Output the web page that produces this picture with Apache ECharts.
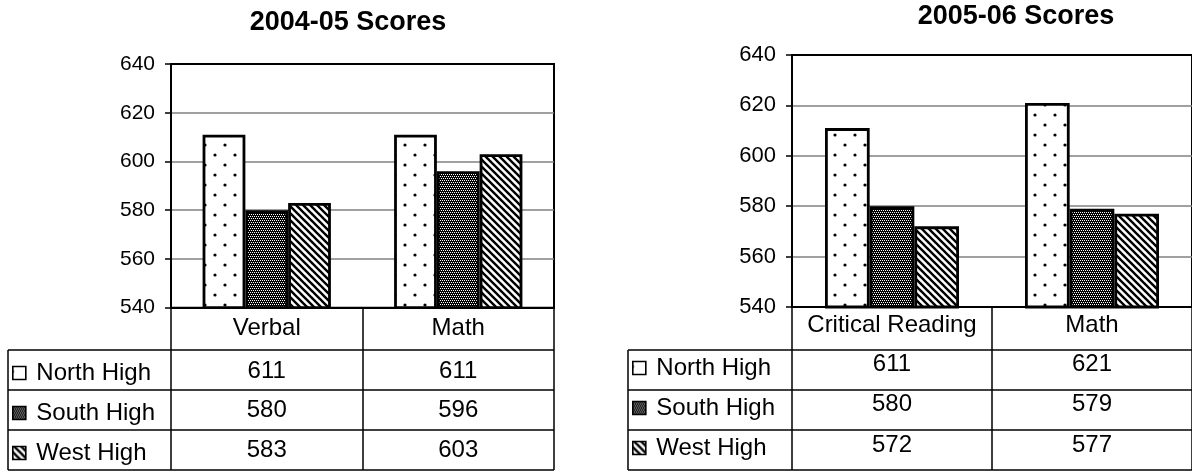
<!DOCTYPE html>
<html>
<head>
<meta charset="utf-8">
<script src="https://cdn.jsdelivr.net/npm/echarts@6/dist/echarts.min.js"></script>
<style>
  html, body { margin: 0; padding: 0; background: #fff; }
  #chart { width: 1192px; height: 472px; }
</style>
</head>
<body>
<div id="chart"></div>
<script>
// ---- data ----
const schools = ['North High', 'South High', 'West High'];
const subjects0405 = ['Verbal', 'Math'];
const subjects0506 = ['Critical Reading', 'Math'];
const north0405 = [611, 611];
const south0405 = [580, 596];
const west0405 = [583, 603];
const north0506 = [611, 621];
const south0506 = [580, 579];
const west0506 = [572, 577];
const scoreTicks = [540, 560, 580, 600, 620, 640];
const titles = ['2004-05 Scores', '2005-06 Scores'];

// ---- fill patterns (black & white print style) ----
function makeCanvas(w, h) {
  const c = document.createElement('canvas');
  c.width = w; c.height = h;
  return c;
}
function dotPattern() {
  const c = makeCanvas(20, 20), g = c.getContext('2d');
  g.fillStyle = '#fff'; g.fillRect(0, 0, 20, 20);
  g.fillStyle = '#000';
  [[5, 5], [15, 15]].forEach(([x, y]) => { g.beginPath(); g.arc(x, y, 1.6, 0, Math.PI * 2); g.fill(); });
  return c;
}
function meshPattern() {
  const c = makeCanvas(4, 4), g = c.getContext('2d');
  g.fillStyle = '#000'; g.fillRect(0, 0, 4, 4);
  g.fillStyle = '#fff';
  [[0, 0], [2, 0], [1, 2], [3, 2]].forEach(([x, y]) => g.fillRect(x, y, 1, 1));
  return c;
}
function stripePattern() {
  const s = 7, c = makeCanvas(s, s), g = c.getContext('2d');
  g.fillStyle = '#fff'; g.fillRect(0, 0, s, s);
  g.strokeStyle = '#000'; g.lineWidth = 2.4;
  [-s, 0, s].forEach(off => { g.beginPath(); g.moveTo(-1, off - 1); g.lineTo(s + 1, off + s + 1); g.stroke(); });
  return c;
}
const fills = [dotPattern(), meshPattern(), stripePattern()].map(img => ({ image: img, repeat: 'repeat' }));

// ---- layout of the two panels ----
const FONT = '"Liberation Sans", Arial, Helvetica, sans-serif';
const panels = [
  {
    title: titles[0], cats: subjects0405, values: [north0405, south0405, west0405],
    grid: { left: 171, top: 64, width: 383, height: 243.7 },
    titleAt: [348, 23], tickFont: 21, labelMargin: 9,
    tableLeft: 8, rowLines: [350, 390, 430, 470], textY: [371, 410, 450], legendTop: 356
  },
  {
    title: titles[1], cats: subjects0506, values: [north0506, south0506, west0506],
    grid: { left: 792, top: 55, width: 402, height: 252 },
    titleAt: [1016, 16.5], tickFont: 22, labelMargin: 6,
    tableLeft: 628, rowLines: [350, 390, 430, 470], textY: [364, 404, 445], legendTop: 351
  }
];

const chart = echarts.init(document.getElementById('chart'), null, { renderer: 'canvas' });

const option = {
  animation: false,
  backgroundColor: '#fff',
  textStyle: { fontFamily: FONT, color: '#000' },
  grid: panels.map(p => Object.assign({ show: true, borderColor: '#000', borderWidth: 2, backgroundColor: 'transparent', containLabel: false }, p.grid)),
  xAxis: panels.map((p, k) => ({
    type: 'category', gridIndex: k, data: p.cats, position: 'bottom',
    axisLine: { show: true, lineStyle: { color: '#000', width: 2 } },
    axisTick: { show: true, interval: 0, alignWithLabel: false, length: p.rowLines[p.rowLines.length - 1] - (p.grid.top + p.grid.height), lineStyle: { color: '#000', width: 1.5 } },
    axisLabel: { interval: 0, fontSize: 24, fontFamily: FONT, color: '#000', margin: p.labelMargin },
    splitLine: { show: false }
  })),
  yAxis: panels.map((p, k) => ({
    type: 'value', gridIndex: k,
    min: scoreTicks[0], max: scoreTicks[scoreTicks.length - 1], interval: scoreTicks[1] - scoreTicks[0],
    axisLine: { show: true, lineStyle: { color: '#000', width: 2 } },
    axisTick: { show: true, length: 6, lineStyle: { color: '#000', width: 1.5 } },
    axisLabel: { fontSize: p.tickFont, fontFamily: FONT, color: '#000', margin: 16 },
    splitLine: { show: true, showMinLine: false, showMaxLine: false, lineStyle: { color: '#808080', width: 1.5 } }
  })),
  legend: panels.map(p => ({
    data: schools, orient: 'vertical', left: p.tableLeft - 1, top: p.legendTop,
    itemWidth: 24, itemHeight: 13, itemGap: 16, icon: 'path://M0,0H10V10H0Z',
    selectedMode: false,
    itemStyle: { borderColor: '#000', borderWidth: 1.6 },
    textStyle: { fontSize: 24, lineHeight: 24, fontFamily: FONT, color: '#000' }
  })),
  series: []
};

panels.forEach((p, k) => {
  schools.forEach((name, i) => {
    option.series.push({
      type: 'bar', name, xAxisIndex: k, yAxisIndex: k,
      data: p.values[i],
      barGap: '0%', barCategoryGap: '33%',
      itemStyle: { color: fills[i], borderColor: '#000', borderWidth: 2.8 },
      emphasis: { disabled: true },
      silent: true
    });
  });
});

chart.setOption(option);

// ---- titles and data table below each plot ----
const graphics = [];
panels.forEach((p, k) => {
  graphics.push({
    type: 'text', x: p.titleAt[0], y: p.titleAt[1], silent: true,
    style: { text: p.title, font: 'bold 27px ' + FONT, fill: '#000', align: 'center', verticalAlign: 'middle' }
  });
  const right = p.grid.left + p.grid.width;
  const lineStyle = { stroke: '#000', lineWidth: 1.5 };
  p.rowLines.forEach(y => {
    graphics.push({ type: 'line', silent: true, shape: { x1: p.tableLeft, y1: y, x2: right, y2: y }, style: lineStyle });
  });
  graphics.push({
    type: 'line', silent: true,
    shape: { x1: p.tableLeft, y1: p.rowLines[0], x2: p.tableLeft, y2: p.rowLines[p.rowLines.length - 1] },
    style: lineStyle
  });
  p.cats.forEach((cat, j) => {
    const cx = chart.convertToPixel({ xAxisIndex: k }, cat);
    schools.forEach((name, i) => {
      graphics.push({
        type: 'text', x: cx, y: p.textY[i], silent: true,
        style: { text: String(p.values[i][j]), font: '24px ' + FONT, fill: '#000', align: 'center', verticalAlign: 'middle' }
      });
    });
  });
});
chart.setOption({ graphic: graphics });
</script>
</body>
</html>
